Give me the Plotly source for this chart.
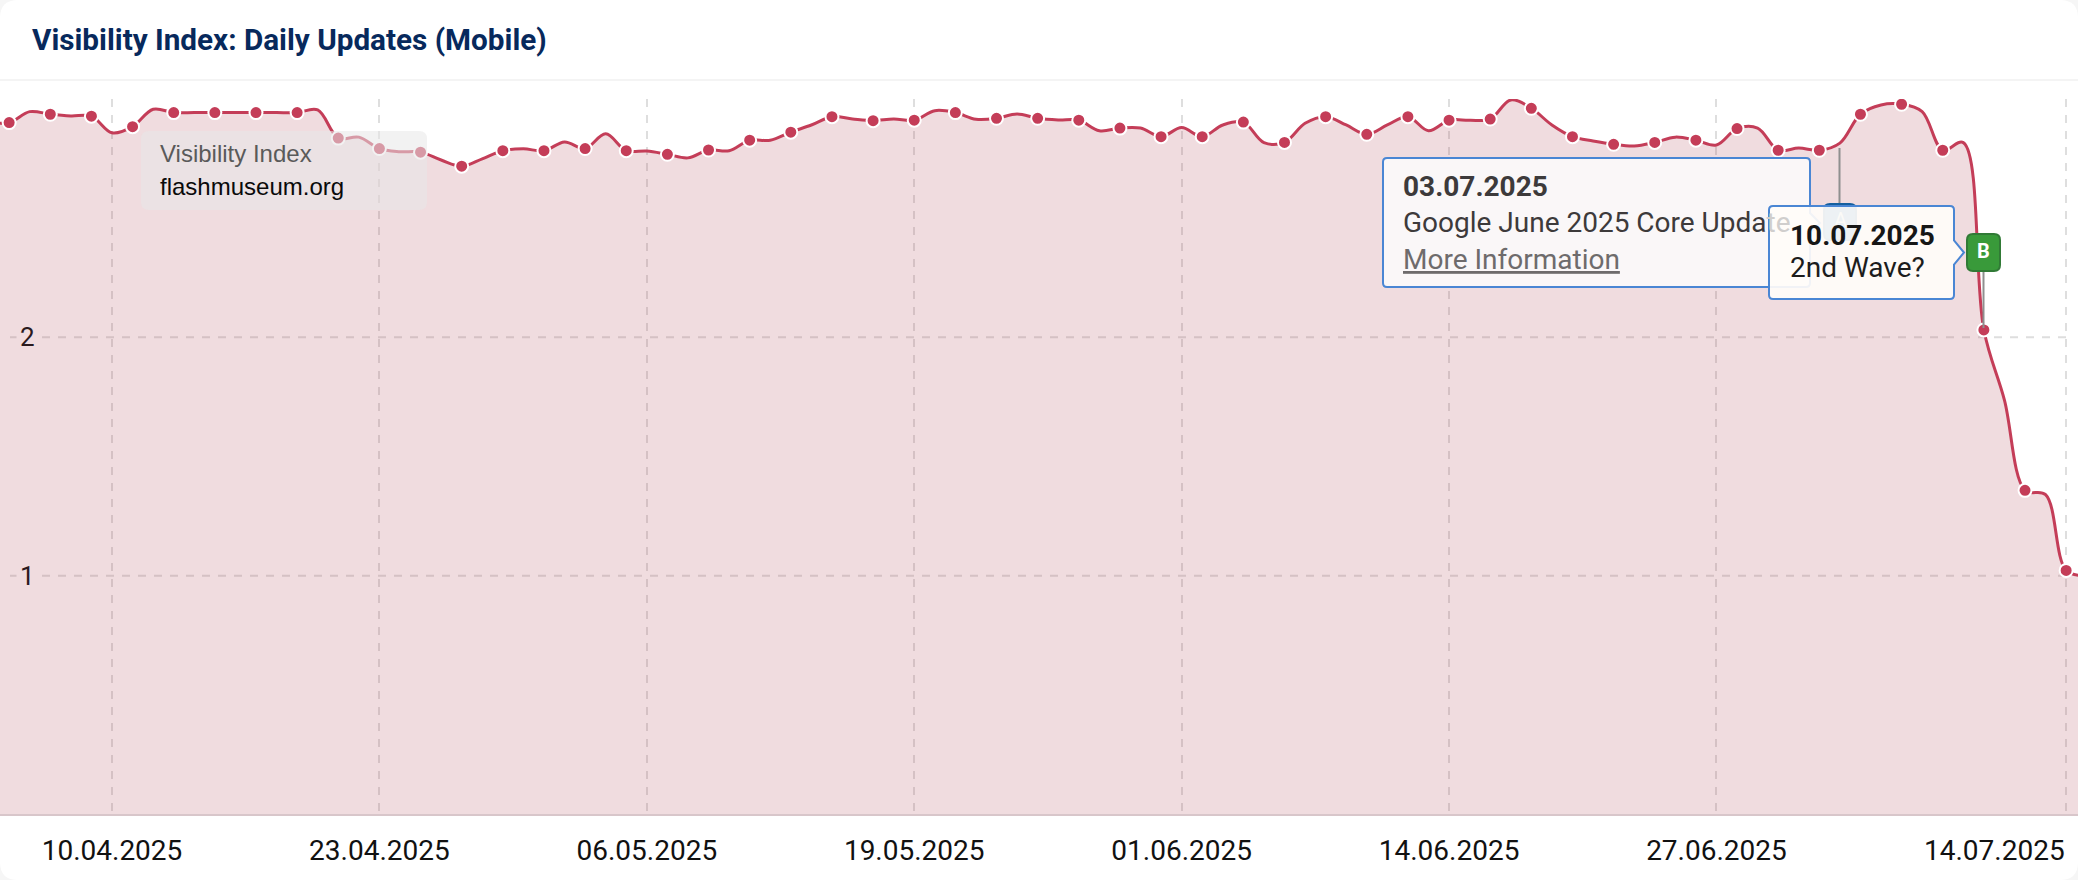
import pandas as pd
import plotly.graph_objects as go

W, H = 2078, 880
PLOT_TOP, PLOT_BOTTOM = 99, 814

TITLE = "Visibility Index: Daily Updates (Mobile)"
FIRST_DAY, LAST_DAY = "2025-04-04", "2025-07-15"
VISIBILITY = [
    2.904, 2.901, 2.947, 2.936, 2.929, 2.928, 2.858, 2.884, 2.957, 2.943, 2.943, 2.943, 2.943,
    2.943, 2.943, 2.943, 2.954, 2.836, 2.840, 2.792, 2.779, 2.777, 2.744, 2.718, 2.749, 2.783,
    2.791, 2.783, 2.820, 2.792, 2.854, 2.783, 2.782, 2.768, 2.753, 2.786, 2.783, 2.827, 2.827,
    2.861, 2.891, 2.926, 2.916, 2.909, 2.916, 2.911, 2.951, 2.943, 2.915, 2.919, 2.937, 2.919,
    2.912, 2.911, 2.867, 2.878, 2.878, 2.842, 2.880, 2.842, 2.891, 2.903, 2.817, 2.818, 2.898,
    2.926, 2.891, 2.852, 2.891, 2.926, 2.867, 2.911, 2.911, 2.916, 2.996, 2.961, 2.891, 2.842,
    2.824, 2.810, 2.803, 2.818, 2.840, 2.827, 2.807, 2.876, 2.878, 2.785, 2.794, 2.785, 2.815,
    2.936, 2.975, 2.978, 2.947, 2.785, 2.817, 2.031, 1.737, 1.358, 1.340, 1.022, 1.0,
]
TICK_DATES = ["2025-04-10", "2025-04-23", "2025-05-06", "2025-05-19", "2025-06-01", "2025-06-14", "2025-06-27", "2025-07-14"]
TICK_LABELS = ["10.04.2025", "23.04.2025", "06.05.2025", "19.05.2025", "01.06.2025", "14.06.2025", "27.06.2025", "14.07.2025"]
Y_TICKS = [1, 2]

dates = pd.date_range(FIRST_DAY, LAST_DAY, freq="D")
PX_PER_DAY = 20.57
x_start = pd.Timestamp("2025-04-10") - pd.Timedelta(days=112 / PX_PER_DAY)
x_end = pd.Timestamp("2025-04-10") + pd.Timedelta(days=(W - 112) / PX_PER_DAY)

LINE = "#c43d58"
FONT = "Roboto"
BLUE = "#4a86d4"
GRID = "#dedede"


def px(x):
    return x / W


def py(y):
    return (PLOT_BOTTOM - y) / (PLOT_BOTTOM - PLOT_TOP)


def rounded(x0, y0, x1, y1, r, arrow=None):
    pts = [f"M{px(x0 + r)},{py(y0)}", f"L{px(x1 - r)},{py(y0)}", f"Q{px(x1)},{py(y0)} {px(x1)},{py(y0 + r)}"]
    if arrow:
        tip_x, tip_y, half = arrow
        pts += [f"L{px(x1)},{py(tip_y - half)}", f"L{px(tip_x)},{py(tip_y)}", f"L{px(x1)},{py(tip_y + half)}"]
    pts += [
        f"L{px(x1)},{py(y1 - r)}", f"Q{px(x1)},{py(y1)} {px(x1 - r)},{py(y1)}",
        f"L{px(x0 + r)},{py(y1)}", f"Q{px(x0)},{py(y1)} {px(x0)},{py(y1 - r)}",
        f"L{px(x0)},{py(y0 + r)}", f"Q{px(x0)},{py(y0)} {px(x0 + r)},{py(y0)}", "Z",
    ]
    return " ".join(pts)


fig = go.Figure()
fig.add_trace(go.Scatter(
    x=dates, y=VISIBILITY, mode="lines",
    line=dict(color=LINE, width=3, shape="spline", smoothing=1.0),
    fill="tozeroy", fillcolor="rgba(170,60,75,0.18)", hoverinfo="skip", showlegend=False,
))
fig.add_trace(go.Scatter(
    x=dates[1:-1:2], y=VISIBILITY[1:-1:2], mode="markers",
    marker=dict(color=LINE, size=13, line=dict(color="#ffffff", width=2)),
    hoverinfo="skip", showlegend=False,
))

shapes = [
    dict(type="path", xref="paper", yref="paper", layer="below", line=dict(width=0), fillcolor="#ffffff",
         path=rounded(0, 0, W, H, 18)),
    dict(type="line", xref="paper", yref="paper", layer="below", x0=0, x1=1, y0=py(80), y1=py(80),
         line=dict(color="#f4f4f4", width=2)),
]
for v in Y_TICKS:
    shapes.append(dict(type="line", xref="paper", yref="y", layer="below", x0=px(10), x1=px(2066), y0=v, y1=v,
                       line=dict(color=GRID, width=2, dash="8px,8px")))
# watermark
shapes.append(dict(type="path", xref="paper", yref="paper", layer="above", line=dict(width=0),
                   fillcolor="rgba(231,231,231,0.55)", path=rounded(141, 131, 427, 210, 8)))
# flag A stem and flag
shapes.append(dict(type="line", xref="paper", yref="paper", layer="above", x0=px(1839.5), x1=px(1839.5), y0=py(148), y1=py(204),
                   line=dict(color="#8f8f8f", width=2)))
shapes.append(dict(type="path", xref="paper", yref="paper", layer="above", line=dict(color="#155f9e", width=2),
                   fillcolor="#1a6fb8", path=rounded(1824, 204, 1856, 240, 6)))
# tooltip A
shapes.append(dict(type="path", xref="paper", yref="paper", layer="above", line=dict(color=BLUE, width=2),
                   fillcolor="#faf7f8", path=rounded(1383, 158, 1810, 287, 4, arrow=(1820, 223, 10))))
# tooltip B
shapes.append(dict(type="path", xref="paper", yref="paper", layer="above", line=dict(color=BLUE, width=2),
                   fillcolor="rgba(255,252,248,0.92)", path=rounded(1769, 206, 1954, 299, 4, arrow=(1964, 252.5, 12))))
# flag B
shapes.append(dict(type="line", xref="paper", yref="paper", layer="above", x0=px(1983.5), x1=px(1983.5), y0=py(271), y1=py(328),
                   line=dict(color="#8f8f8f", width=2)))
shapes.append(dict(type="path", xref="paper", yref="paper", layer="above", line=dict(color="#317a36", width=2),
                   fillcolor="#399a3a", path=rounded(1967, 234, 2000, 271, 6)))


def note(text, x, y, size, color, anchor="left", bg=None):
    return dict(text=text, xref="paper", yref="paper", x=px(x), y=py(y), xanchor=anchor, yanchor="middle",
                showarrow=False, align="left", bgcolor=bg, borderpad=0,
                font=dict(family=FONT, size=size, color=color))


annotations = [
    note(f"<b>{TITLE}</b>", 31, 40, 29.7, "#07295c"),
    dict(note("Visibility Index", 159, 154, 24, "#5a5a5a"), font=dict(family="Liberation Sans", size=24, color="#5a5a5a")),
    dict(note("flashmuseum.org", 159, 186, 24, "#0a0a0a"), font=dict(family="Liberation Sans", size=24, color="#0a0a0a")),
    note("<b>03.07.2025</b>", 1402, 186, 28, "#3d3a3b"),
    note('Google June 2025 Core Upda<span style="color:#d0cecd">te</span>', 1402, 222, 28, "#3d3a3b"),
    note("<u>More Information</u>", 1402, 259, 28, "#6e6b6c"),
    note("A", 1840, 220, 20, "#fbfaf7", anchor="center"),
    note("<b>10.07.2025</b>", 1789, 235, 28, "#161616"),
    note("2nd Wave?", 1789, 267, 28, "#1c1c1c"),
    note("<b>B</b>", 1983.5, 251, 20, "#ffffff", anchor="center"),
    note("14.07.2025", 2066, 850, 28, "#111111", anchor="right"),
]
for v in Y_TICKS:
    annotations.append(dict(text=str(v), xref="paper", yref="y", x=px(27), y=v, xanchor="center", yanchor="middle",
                            showarrow=False, bgcolor="#f0dcdf", borderpad=3,
                            font=dict(family=FONT, size=26, color="#2a1a1e")))

fig.update_layout(
    width=W, height=H, margin=dict(l=0, r=0, t=PLOT_TOP, b=H - PLOT_BOTTOM, pad=0),
    paper_bgcolor="#f6f6f6", plot_bgcolor="rgba(0,0,0,0)",
    shapes=shapes, annotations=annotations, font=dict(family=FONT),
    xaxis=dict(
        type="date", range=[x_start, x_end], tickmode="array", tickvals=TICK_DATES,
        ticktext=TICK_LABELS[:-1] + [""], tickfont=dict(family=FONT, size=28, color="#111111"),
        showgrid=True, gridcolor=GRID, gridwidth=2, griddash="8px,8px",
        ticks="outside", ticklen=10, tickcolor="rgba(0,0,0,0)",
        showline=True, linecolor="#d8c6ca", linewidth=2, zeroline=False,
    ),
    yaxis=dict(range=[0, 3], tickvals=Y_TICKS, showticklabels=False, showgrid=False, zeroline=False, showline=False),
)

fig.write_html("out.html", config={"displayModeBar": False},
               post_script="document.body.style.margin='0';document.body.style.overflow='hidden';")
